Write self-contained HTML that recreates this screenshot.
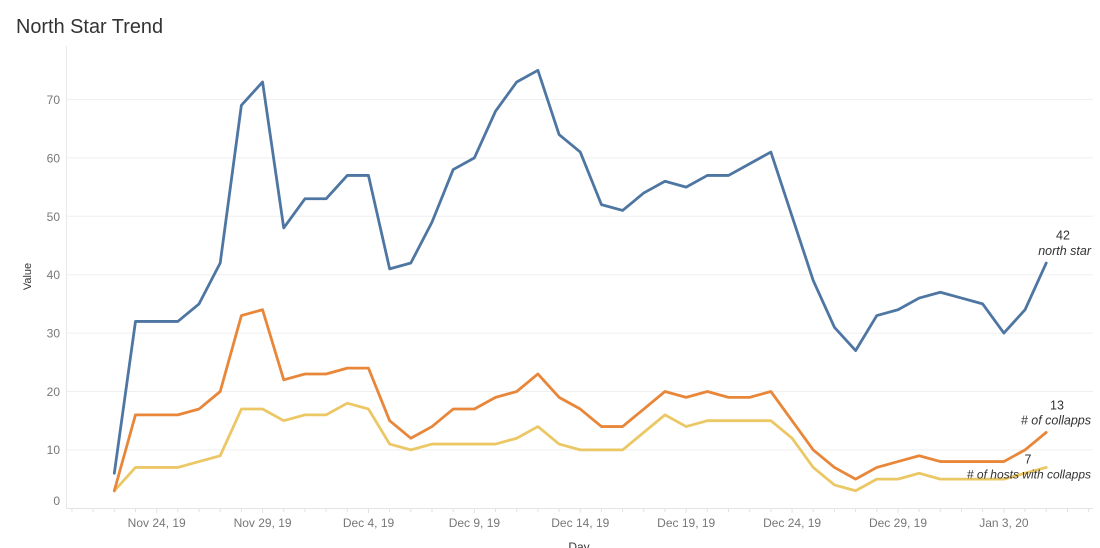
<!DOCTYPE html>
<html>
<head>
<meta charset="utf-8">
<style>
  html, body { margin:0; padding:0; background:#fff; }
  body { width:1100px; height:548px; overflow:hidden; }
  svg { display:block; }
  text { font-family: "Liberation Sans", "DejaVu Sans", sans-serif; }
</style>
</head>
<body>
<svg width="1100" height="548" viewBox="0 0 1100 548" xmlns="http://www.w3.org/2000/svg">
  <rect width="1100" height="548" fill="#ffffff"/>

  <text x="16" y="33" font-size="20" fill="#333333" textLength="147" lengthAdjust="spacingAndGlyphs">North Star Trend</text>

  <g stroke="#efefef" stroke-width="1">
    <line x1="66" y1="99.5" x2="1093" y2="99.5"/>
    <line x1="66" y1="157.9" x2="1093" y2="157.9"/>
    <line x1="66" y1="216.3" x2="1093" y2="216.3"/>
    <line x1="66" y1="274.7" x2="1093" y2="274.7"/>
    <line x1="66" y1="333.1" x2="1093" y2="333.1"/>
    <line x1="66" y1="391.5" x2="1093" y2="391.5"/>
    <line x1="66" y1="449.9" x2="1093" y2="449.9"/>
  </g>
  <line x1="66.5" y1="46" x2="66.5" y2="508.5" stroke="#e8e8e8" stroke-width="1"/>
  <line x1="66" y1="508.5" x2="1093" y2="508.5" stroke="#e4e4e4" stroke-width="1"/>

  <g font-size="12" fill="#777777" text-anchor="end">
    <text x="60" y="104">70</text>
    <text x="60" y="162.5">60</text>
    <text x="60" y="221">50</text>
    <text x="60" y="279">40</text>
    <text x="60" y="337.5">30</text>
    <text x="60" y="396">20</text>
    <text x="60" y="454">10</text>
    <text x="60" y="505">0</text>
  </g>

  <text transform="translate(31,276.5) rotate(-90)" font-size="11" fill="#333333" text-anchor="middle">Value</text>

  <g font-size="12" fill="#777777" text-anchor="middle">
    <text x="156.7" y="527">Nov 24, 19</text>
    <text x="262.6" y="527">Nov 29, 19</text>
    <text x="368.5" y="527">Dec 4, 19</text>
    <text x="474.4" y="527">Dec 9, 19</text>
    <text x="580.3" y="527">Dec 14, 19</text>
    <text x="686.2" y="527">Dec 19, 19</text>
    <text x="792.1" y="527">Dec 24, 19</text>
    <text x="898.0" y="527">Dec 29, 19</text>
    <text x="1003.9" y="527">Jan 3, 20</text>
  </g>

  <text x="579" y="551" font-size="12" fill="#333333" text-anchor="middle">Day</text>

  <g stroke="#e2e2e2" stroke-width="1">
    <line x1="71.9" y1="508.5" x2="71.9" y2="512"/>
    <line x1="93.1" y1="508.5" x2="93.1" y2="512"/>
    <line x1="114.3" y1="508.5" x2="114.3" y2="512"/>
    <line x1="135.5" y1="508.5" x2="135.5" y2="512"/>
    <line x1="156.7" y1="508.5" x2="156.7" y2="513"/>
    <line x1="177.8" y1="508.5" x2="177.8" y2="512"/>
    <line x1="199.0" y1="508.5" x2="199.0" y2="512"/>
    <line x1="220.2" y1="508.5" x2="220.2" y2="512"/>
    <line x1="241.4" y1="508.5" x2="241.4" y2="512"/>
    <line x1="262.6" y1="508.5" x2="262.6" y2="513"/>
    <line x1="283.7" y1="508.5" x2="283.7" y2="512"/>
    <line x1="304.9" y1="508.5" x2="304.9" y2="512"/>
    <line x1="326.1" y1="508.5" x2="326.1" y2="512"/>
    <line x1="347.3" y1="508.5" x2="347.3" y2="512"/>
    <line x1="368.5" y1="508.5" x2="368.5" y2="513"/>
    <line x1="389.6" y1="508.5" x2="389.6" y2="512"/>
    <line x1="410.8" y1="508.5" x2="410.8" y2="512"/>
    <line x1="432.0" y1="508.5" x2="432.0" y2="512"/>
    <line x1="453.2" y1="508.5" x2="453.2" y2="512"/>
    <line x1="474.4" y1="508.5" x2="474.4" y2="513"/>
    <line x1="495.5" y1="508.5" x2="495.5" y2="512"/>
    <line x1="516.7" y1="508.5" x2="516.7" y2="512"/>
    <line x1="537.9" y1="508.5" x2="537.9" y2="512"/>
    <line x1="559.1" y1="508.5" x2="559.1" y2="512"/>
    <line x1="580.3" y1="508.5" x2="580.3" y2="513"/>
    <line x1="601.4" y1="508.5" x2="601.4" y2="512"/>
    <line x1="622.6" y1="508.5" x2="622.6" y2="512"/>
    <line x1="643.8" y1="508.5" x2="643.8" y2="512"/>
    <line x1="665.0" y1="508.5" x2="665.0" y2="512"/>
    <line x1="686.2" y1="508.5" x2="686.2" y2="513"/>
    <line x1="707.3" y1="508.5" x2="707.3" y2="512"/>
    <line x1="728.5" y1="508.5" x2="728.5" y2="512"/>
    <line x1="749.7" y1="508.5" x2="749.7" y2="512"/>
    <line x1="770.9" y1="508.5" x2="770.9" y2="512"/>
    <line x1="792.1" y1="508.5" x2="792.1" y2="513"/>
    <line x1="813.2" y1="508.5" x2="813.2" y2="512"/>
    <line x1="834.4" y1="508.5" x2="834.4" y2="512"/>
    <line x1="855.6" y1="508.5" x2="855.6" y2="512"/>
    <line x1="876.8" y1="508.5" x2="876.8" y2="512"/>
    <line x1="898.0" y1="508.5" x2="898.0" y2="513"/>
    <line x1="919.1" y1="508.5" x2="919.1" y2="512"/>
    <line x1="940.3" y1="508.5" x2="940.3" y2="512"/>
    <line x1="961.5" y1="508.5" x2="961.5" y2="512"/>
    <line x1="982.7" y1="508.5" x2="982.7" y2="512"/>
    <line x1="1003.9" y1="508.5" x2="1003.9" y2="513"/>
    <line x1="1025.0" y1="508.5" x2="1025.0" y2="512"/>
    <line x1="1046.2" y1="508.5" x2="1046.2" y2="512"/>
    <line x1="1067.4" y1="508.5" x2="1067.4" y2="512"/>
    <line x1="1088.6" y1="508.5" x2="1088.6" y2="512"/>
  </g>

  <g transform="matrix(21.18 0 0 -5.84 114.3 508.3)" fill="none" stroke-linejoin="round" stroke-linecap="round">
    <polyline vector-effect="non-scaling-stroke" stroke="#ebc865" stroke-width="2.8"
      points="0,3 1,7 2,7 3,7 4,8 5,9 6,17 7,17 8,15 9,16 10,16 11,18 12,17 13,11 14,10 15,11 16,11 17,11 18,11 19,12 20,14 21,11 22,10 23,10 24,10 25,13 26,16 27,14 28,15 29,15 30,15 31,15 32,12 33,7 34,4 35,3 36,5 37,5 38,6 39,5 40,5 41,5 42,5 43,6 44,7"/>
    <polyline vector-effect="non-scaling-stroke" stroke="#e8873a" stroke-width="2.8"
      points="0,3 1,16 2,16 3,16 4,17 5,20 6,33 7,34 8,22 9,23 10,23 11,24 12,24 13,15 14,12 15,14 16,17 17,17 18,19 19,20 20,23 21,19 22,17 23,14 24,14 25,17 26,20 27,19 28,20 29,19 30,19 31,20 32,15 33,10 34,7 35,5 36,7 37,8 38,9 39,8 40,8 41,8 42,8 43,10 44,13"/>
    <polyline vector-effect="non-scaling-stroke" stroke="#4e76a2" stroke-width="2.8"
      points="0,6 1,32 2,32 3,32 4,35 5,42 6,69 7,73 8,48 9,53 10,53 11,57 12,57 13,41 14,42 15,49 16,58 17,60 18,68 19,73 20,75 21,64 22,61 23,52 24,51 25,54 26,56 27,55 28,57 29,57 30,59 31,61 32,50 33,39 34,31 35,27 36,33 37,34 38,36 39,37 40,36 41,35 42,30 43,34 44,42"/>
  </g>

  <g font-size="12.5" fill="#333333">
    <text x="1063" y="239.5" text-anchor="middle">42</text>
    <text x="1091" y="255" text-anchor="end" font-style="italic">north star</text>
    <text x="1057" y="409.5" text-anchor="middle">13</text>
    <text x="1091" y="424.5" text-anchor="end" font-style="italic"># of collapps</text>
    <text x="1028" y="463.5" text-anchor="middle">7</text>
    <text x="1091" y="478.5" text-anchor="end" font-style="italic" font-size="12"># of hosts with collapps</text>
  </g>
</svg>
</body>
</html>
